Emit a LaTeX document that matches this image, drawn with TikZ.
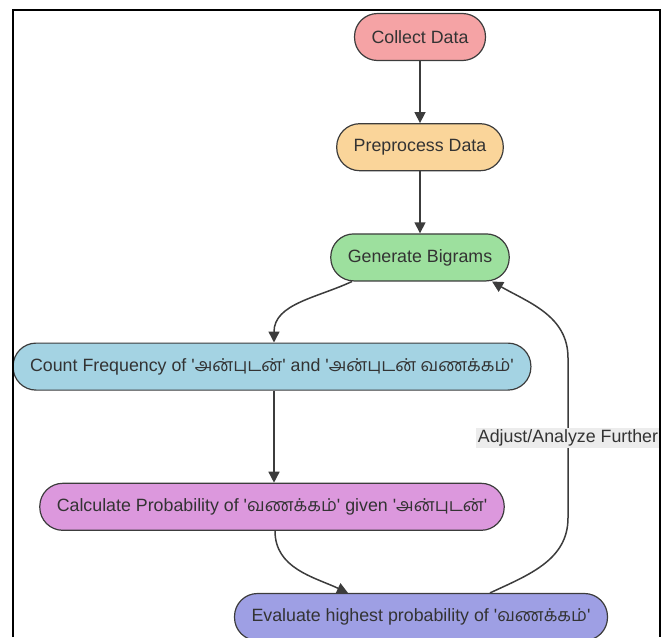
\documentclass[tikz,border=0pt]{standalone}
\usepackage{fontspec}
\setmainfont{Liberation Sans}
\newfontfamily\tamilfont[Script=Tamil]{Hind Madurai}
\newcommand{\tam}[1]{\textquotesingle{\tamilfont #1}\textquotesingle}
\usetikzlibrary{positioning}
\usetikzlibrary{arrows.meta}

\definecolor{collectfill}{HTML}{F5A3A5}
\definecolor{prepfill}{HTML}{FAD59A}
\definecolor{genfill}{HTML}{9DE09E}
\definecolor{countfill}{HTML}{A4D3E3}
\definecolor{calcfill}{HTML}{DC98DD}
\definecolor{evalfill}{HTML}{9E9FE4}
\definecolor{boxline}{HTML}{3C3C3C}
\definecolor{textgray}{HTML}{333333}
\definecolor{notegray}{HTML}{ECECEC}

\tikzset{
  flowbox/.style={draw=boxline, line width=1.2pt, rounded corners=23pt,
                  minimum height=47pt, inner xsep=17pt, text=textgray,
                  font=\fontsize{17.8}{20}\selectfont},
  note/.style={fill=notegray, text=textgray, inner sep=2pt,
               font=\fontsize{17.8}{20}\selectfont}
}

\begin{document}
\begin{tikzpicture}[->,>={Triangle[length=11pt,width=11pt]},x=1pt,y=1pt,
                    node distance=62pt,line width=1.5pt,
                    every edge/.append style={draw=boxline}]

  \useasboundingbox (0,0) rectangle (669,-637);

  \node[flowbox, fill=collectfill] (collect) at (420,-37) {Collect Data};
  \node[flowbox, fill=prepfill]    (prep)  [below = of collect]  {Preprocess Data};
  \node[flowbox, fill=genfill]     (gen)   [below = of prep]     {Generate Bigrams};
  \node[flowbox, fill=countfill]   (count) [below = 61pt of gen, xshift=-148pt]
        {Count Frequency of \tam{அன்புடன்} and \tam{அன்புடன் வணக்கம்}};
  \node[flowbox, fill=calcfill]    (calc)  [below = 92pt of count]
        {Calculate Probability of \tam{வணக்கம்} given \tam{அன்புடன்}};
  \node[flowbox, fill=evalfill]    (eval)  [below = of calc, xshift=149pt]
        {Evaluate highest probability of \tam{வணக்கம்}};

  \path
        (collect) edge (prep)
        (prep)    edge (gen)
        ([xshift=-68pt]gen.south) edge [out=-155, in=90] ([xshift=2pt]count.north)
        ([xshift=2pt]count.south) edge ([xshift=2pt]calc.north)
        ([xshift=3pt]calc.south)  edge [out=-90, in=155] ([xshift=-73pt]eval.north)
  ;

  % feedback loop
  \draw[draw=boxline] ([xshift=69pt]eval.north) to[out=25, in=-90] ++(78pt,75pt)
        -- node[note] {Adjust/Analyze Further} ++(0,160pt)
        to[out=90, in=-30] ([xshift=72pt]gen.south);

  % frame
  \draw[-, draw=black, line width=2.5pt] (13,-637) |- (660,-10) -- (660,-637);

\end{tikzpicture}
\end{document}
